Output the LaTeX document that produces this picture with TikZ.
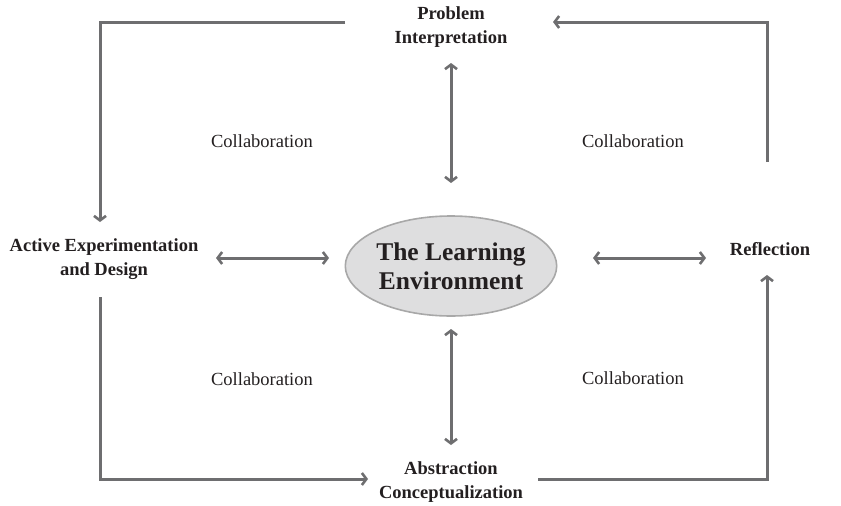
\documentclass[tikz,border=0pt]{standalone}
\usepackage{fontspec}
\setmainfont{Liberation Serif}
\usetikzlibrary{arrows.meta,shapes.geometric}
\definecolor{lineg}{HTML}{6E6E70}
\definecolor{txt}{HTML}{231F20}
\definecolor{ellfill}{HTML}{DEDEDF}
\definecolor{elldraw}{HTML}{A8A8A8}
\tikzset{
  lbl/.style={align=center,inner sep=0pt,text=txt,font=\fontsize{18.5}{24}\selectfont\bfseries},
  collab/.style={inner sep=0pt,text=txt,font=\fontsize{18.5}{22}\selectfont},
  ell/.style={ellipse,draw=elldraw,line width=1.6pt,fill=ellfill,minimum width=210pt,minimum height=100pt,inner sep=0pt,align=center,text=txt,font=\fontsize{25.5}{29}\selectfont\bfseries},
  tipb/.tip={Straight Barb[length=4.5pt,width=12pt,line width=2.6pt]},
  conn/.style={draw=lineg,line width=3pt,arrows={-tipb}},
  dconn/.style={draw=lineg,line width=3pt,arrows={tipb-tipb}}
}
\begin{document}
\begin{tikzpicture}[x=1pt,y=-1pt]
\useasboundingbox (0,0) rectangle (841,506);
\node[lbl] (pi) at (451,27) {Problem\\Interpretation};
\node[lbl] (aed) at (104,259) {Active Experimentation\\and Design};
\node[lbl] (ref) at (770,249) {Reflection};
\node[lbl] (ac) at (451,482) {Abstraction\\Conceptualization};
\node[ell] (le) at (451,266) {The Learning\\Environment};
\node[collab] (col1) at (262,141) {Collaboration};
\node[collab] (col2) at (633,141) {Collaboration};
\node[collab] (col3) at (262,379) {Collaboration};
\node[collab] (col4) at (633,378) {Collaboration};
% outer loop
\coordinate (tl0) at (345,22);
\coordinate (tl1) at (100,222);
\coordinate (tr0) at (767,162);
\coordinate (tr1) at (553,22);
\coordinate (bl0) at (100,297);
\coordinate (bl1) at (368,479);
\coordinate (br0) at (538,479);
\coordinate (br1) at (767,275);
\draw[conn] (tl0) -| (tl1);
\draw[conn] (tr0) |- (tr1);
\draw[conn] (bl0) |- (bl1);
\draw[conn] (br0) -| (br1);
% spokes
\coordinate (vt0) at (451,63);
\coordinate (vt1) at (451,183);
\coordinate (vb0) at (451,329);
\coordinate (vb1) at (451,445);
\coordinate (hl0) at (216,258);
\coordinate (hl1) at (329,258);
\coordinate (hr0) at (593,258);
\coordinate (hr1) at (706,258);
\draw[dconn] (vt0) -- (vt1);
\draw[dconn] (vb0) -- (vb1);
\draw[dconn] (hl0) -- (hl1);
\draw[dconn] (hr0) -- (hr1);
\end{tikzpicture}
\end{document}
